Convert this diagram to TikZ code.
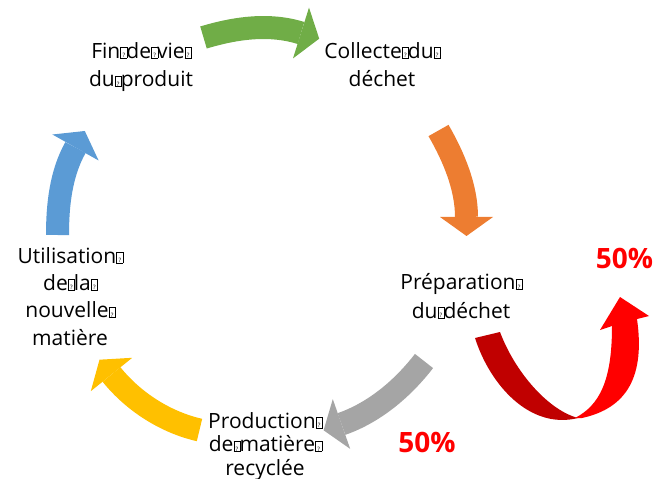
\documentclass[tikz,border=0pt]{standalone}
\usepackage{fontspec}
\setmainfont{Open Sans}
\definecolor{cgreen}{HTML}{70AD47}
\definecolor{corange}{HTML}{ED7D31}
\definecolor{cgray}{HTML}{A5A5A5}
\definecolor{cyellow}{HTML}{FFC000}
\definecolor{cblue}{HTML}{5B9BD5}
\definecolor{cdarkred}{HTML}{C00000}
\definecolor{cred}{HTML}{FF0000}
\newcommand\qb{\makebox[6bp][l]{\raisebox{0.5bp}{\setlength\fboxsep{0pt}\setlength\fboxrule{0.5bp}\fbox{\makebox[6bp]{\rule{0pt}{10bp}\fontsize{6bp}{6bp}\selectfont ?}}}}}
\tikzset{
  lbl/.style={inner sep=0pt, align=center, anchor=north, font=\fontsize{21bp}{28.5bp}\selectfont},
  pct/.style={inner sep=0pt, anchor=base, text=cred, font=\fontsize{28bp}{30bp}\selectfont\bfseries},
  shaft/.style={line width=23bp, line cap=butt}
}
\begin{document}
\begin{tikzpicture}[x=1bp,y=-1bp]
\useasboundingbox (0,0) rectangle (656,479);
% labels
\node[lbl] (fin) at (141,42) {Fin\qb de\qb vie\qb\\du\qb produit};
\node[lbl] (col) at (382,42) {Collecte\qb du\qb\\déchet};
\node[lbl] (prep) at (461,273.5) {Préparation\qb\\du\qb déchet};
\node[lbl, font=\fontsize{21bp}{23.5bp}\selectfont] (prod) at (265,412) {Production\qb\\de\qb matière\qb\\recyclée};
\node[lbl, font=\fontsize{21bp}{27.3bp}\selectfont] (util) at (70,247) {Utilisation\qb\\de\qb la\qb\\nouvelle\qb\\matière};
\node[pct] (pa) at (624.5,268) {50\%};
\node[pct] (pb) at (427,452) {50\%};
% green arrow
\coordinate (g0) at (203.5,37.5); \coordinate (g3) at (301,33);
\draw[shaft, cgreen] (g0) .. controls (235,28) and (269,23) .. (g3);
\fill[cgreen] (293,58.4) -- (319.2,38.7) -- (309,7.6) -- cycle;
% orange arrow
\coordinate (o0) at (438.5,130.5); \coordinate (o3) at (466.5,217);
\draw[shaft, corange] (o0) .. controls (453.5,156.5) and (466.5,187) .. (o3);
\fill[corange] (440,217) -- (466.5,236) -- (493,217) -- cycle;
% gray arrow
\coordinate (r0) at (424,361); \coordinate (r3) at (341.5,424);
\draw[shaft, cgray] (r0) .. controls (402.6,388.7) and (374.4,412.5) .. (r3);
\fill[cgray] (350.2,448.9) -- (323.6,430.3) -- (332.8,399.1) -- cycle;
% yellow arrow
\coordinate (y0) at (199.5,430); \coordinate (y3) at (111.5,374.5);
\draw[shaft, cyellow] (y0) .. controls (165.6,422.3) and (133.5,401.8) .. (y3);
\fill[cyellow] (90.8,391.2) -- (99.5,359.7) -- (132.2,357.8) -- cycle;
% blue arrow
\coordinate (b0) at (57.5,235); \coordinate (b3) at (75.5,147.5);
\draw[shaft, cblue] (b0) .. controls (57.5,205) and (60.8,173.6) .. (b3);
\fill[cblue] (98.6,160.5) -- (84.8,131) -- (52.4,134.5) -- cycle;
% red twisted arrow
\fill[cdarkred] (475,338) .. controls (490,385) and (530,430) .. (578,418)
  .. controls (548,410) and (515,372) .. (500,332) -- cycle;
\fill[cred] (575,418) .. controls (600,405) and (612,380) .. (612,326)
  -- (600,330) -- (620,297) -- (649,316) -- (637,319)
  .. controls (645,375) and (628,408) .. (582,418) -- cycle;
\end{tikzpicture}
\end{document}
